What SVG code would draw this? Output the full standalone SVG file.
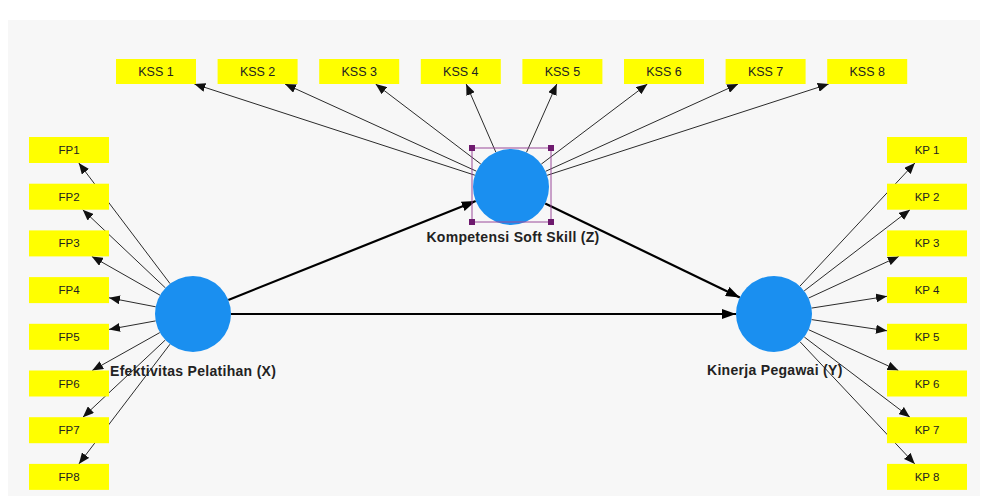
<svg xmlns="http://www.w3.org/2000/svg" width="987" height="502" viewBox="0 0 987 502">
  <defs>
    <marker id="tip" markerUnits="userSpaceOnUse" markerWidth="11" markerHeight="9" refX="11" refY="4.5" orient="auto">
      <path d="M0,0 L11,4.5 L0,9 Z" fill="#111"/>
    </marker>
    <marker id="tipBold" markerUnits="userSpaceOnUse" markerWidth="14" markerHeight="10" refX="14" refY="5" orient="auto">
      <path d="M0,0 L14,5 L0,10 Z" fill="#000"/>
    </marker>
  </defs>
  <style>
    .ind rect { fill: #ffff00; }
    .ind text { font-family: "Liberation Sans", Arial, sans-serif; font-size: 11.5px; fill: #222; text-anchor: middle; }
    .kss text { font-size: 12.5px; }
    .lv circle { fill: #1a8ff0; }
    .lbl { font-family: "Liberation Sans", Arial, sans-serif; font-size: 14px; font-weight: bold; fill: #222; letter-spacing: 0.3px; }
    .load { stroke: #2b2b2b; stroke-width: 1; fill: none; marker-end: url(#tip); }
    .path { stroke: #000; stroke-width: 2.2; fill: none; marker-end: url(#tipBold); }
    .sel { fill: none; stroke: #9a4a9a; stroke-width: 1; }
    .handle { fill: #6e1a6e; }
  </style>

  <!-- canvas -->
  <rect x="0" y="0" width="987" height="502" fill="#ffffff"/>
  <rect x="8" y="20" width="972" height="476" fill="#f7f7f7"/>

  <!-- connectors -->
  <g id="connectors">
    <!-- Kompetensi Soft Skill (Z) -> KSS indicators -->
    <line class="load" x1="474.9" y1="175.2" x2="194.4" y2="84"/>
    <line class="load" x1="476.4" y1="171.2" x2="285" y2="84"/>
    <line class="load" x1="480.8" y1="164" x2="375.6" y2="84"/>
    <line class="load" x1="495.8" y1="152.1" x2="466.2" y2="84"/>
    <line class="load" x1="526.5" y1="152.3" x2="556.8" y2="84"/>
    <line class="load" x1="541.3" y1="164.1" x2="647.4" y2="84"/>
    <line class="load" x1="545.6" y1="171.3" x2="738.1" y2="84"/>
    <line class="load" x1="547.1" y1="175.3" x2="828.7" y2="84"/>

    <!-- Efektivitas Pelatihan (X) -> FP indicators -->
    <line class="load" x1="170.1" y1="283.7" x2="78.8" y2="163"/>
    <line class="load" x1="165.4" y1="287.9" x2="82.7" y2="209.7"/>
    <line class="load" x1="160" y1="295.2" x2="91.8" y2="256.4"/>
    <line class="load" x1="155.7" y1="306.8" x2="109" y2="297.8"/>
    <line class="load" x1="155.6" y1="320.9" x2="109" y2="329.4"/>
    <line class="load" x1="159.8" y1="332.6" x2="92.2" y2="370.5"/>
    <line class="load" x1="165.3" y1="340" x2="82.9" y2="417.2"/>
    <line class="load" x1="170" y1="344.2" x2="78.9" y2="463.9"/>

    <!-- Kinerja Pegawai (Y) -> KP indicators -->
    <line class="load" x1="799.9" y1="286.2" x2="914.9" y2="163"/>
    <line class="load" x1="804.2" y1="290.9" x2="910" y2="209.7"/>
    <line class="load" x1="808.5" y1="298.1" x2="898.8" y2="256.4"/>
    <line class="load" x1="811.5" y1="308.1" x2="887" y2="296.3"/>
    <line class="load" x1="811.6" y1="319.6" x2="887" y2="330.8"/>
    <line class="load" x1="808.6" y1="329.7" x2="898.4" y2="370.5"/>
    <line class="load" x1="804.3" y1="337" x2="909.9" y2="417.2"/>
    <line class="load" x1="800" y1="341.7" x2="914.8" y2="463.9"/>

    <!-- structural paths -->
    <line class="path" x1="228.3" y1="299.9" x2="475.7" y2="201.1"/>
    <line class="path" x1="231" y1="314" x2="736" y2="314"/>
    <line class="path" x1="545.2" y1="203.5" x2="739.8" y2="297.5"/>
  </g>

  <!-- latent variables -->
  <g id="lv-x" class="lv">
    <circle cx="193" cy="314" r="38"/>
    <text class="lbl" x="110" y="376">Efektivitas Pelatihan (X)</text>
  </g>
  <g id="lv-z" class="lv">
    <circle cx="511" cy="187" r="38"/>
    <rect class="sel" x="472" y="148" width="79" height="74"/>
    <rect class="handle" x="469" y="145" width="6" height="6"/>
    <rect class="handle" x="548" y="145" width="6" height="6"/>
    <rect class="handle" x="469" y="219" width="6" height="6"/>
    <rect class="handle" x="548" y="219" width="6" height="6"/>
    <text class="lbl" x="513" y="242" text-anchor="middle">Kompetensi Soft Skill (Z)</text>
  </g>
  <g id="lv-y" class="lv">
    <circle cx="774" cy="314" r="38"/>
    <text class="lbl" x="707" y="375">Kinerja Pegawai (Y)</text>
  </g>

  <!-- KSS indicators -->
  <g id="kss1" class="ind kss"><rect x="116" y="59" width="80" height="25"/><text x="156" y="76">KSS 1</text></g>
  <g id="kss2" class="ind kss"><rect x="217.6" y="59" width="80" height="25"/><text x="257.6" y="76">KSS 2</text></g>
  <g id="kss3" class="ind kss"><rect x="319.2" y="59" width="80" height="25"/><text x="359.2" y="76">KSS 3</text></g>
  <g id="kss4" class="ind kss"><rect x="420.8" y="59" width="80" height="25"/><text x="460.8" y="76">KSS 4</text></g>
  <g id="kss5" class="ind kss"><rect x="522.4" y="59" width="80" height="25"/><text x="562.4" y="76">KSS 5</text></g>
  <g id="kss6" class="ind kss"><rect x="624" y="59" width="80" height="25"/><text x="664" y="76">KSS 6</text></g>
  <g id="kss7" class="ind kss"><rect x="725.6" y="59" width="80" height="25"/><text x="765.6" y="76">KSS 7</text></g>
  <g id="kss8" class="ind kss"><rect x="827.2" y="59" width="80" height="25"/><text x="867.2" y="76">KSS 8</text></g>

  <!-- FP indicators -->
  <g id="fp1" class="ind"><rect x="29" y="137" width="80" height="26"/><text x="69" y="154">FP1</text></g>
  <g id="fp2" class="ind"><rect x="29" y="183.7" width="80" height="26"/><text x="69" y="200.7">FP2</text></g>
  <g id="fp3" class="ind"><rect x="29" y="230.4" width="80" height="26"/><text x="69" y="247.4">FP3</text></g>
  <g id="fp4" class="ind"><rect x="29" y="277.1" width="80" height="26"/><text x="69" y="294.1">FP4</text></g>
  <g id="fp5" class="ind"><rect x="29" y="323.8" width="80" height="26"/><text x="69" y="340.8">FP5</text></g>
  <g id="fp6" class="ind"><rect x="29" y="370.5" width="80" height="26"/><text x="69" y="387.5">FP6</text></g>
  <g id="fp7" class="ind"><rect x="29" y="417.2" width="80" height="26"/><text x="69" y="434.2">FP7</text></g>
  <g id="fp8" class="ind"><rect x="29" y="463.9" width="80" height="26"/><text x="69" y="480.9">FP8</text></g>

  <!-- KP indicators -->
  <g id="kp1" class="ind"><rect x="887" y="137" width="80" height="26"/><text x="927" y="154">KP 1</text></g>
  <g id="kp2" class="ind"><rect x="887" y="183.7" width="80" height="26"/><text x="927" y="200.7">KP 2</text></g>
  <g id="kp3" class="ind"><rect x="887" y="230.4" width="80" height="26"/><text x="927" y="247.4">KP 3</text></g>
  <g id="kp4" class="ind"><rect x="887" y="277.1" width="80" height="26"/><text x="927" y="294.1">KP 4</text></g>
  <g id="kp5" class="ind"><rect x="887" y="323.8" width="80" height="26"/><text x="927" y="340.8">KP 5</text></g>
  <g id="kp6" class="ind"><rect x="887" y="370.5" width="80" height="26"/><text x="927" y="387.5">KP 6</text></g>
  <g id="kp7" class="ind"><rect x="887" y="417.2" width="80" height="26"/><text x="927" y="434.2">KP 7</text></g>
  <g id="kp8" class="ind"><rect x="887" y="463.9" width="80" height="26"/><text x="927" y="480.9">KP 8</text></g>
</svg>
